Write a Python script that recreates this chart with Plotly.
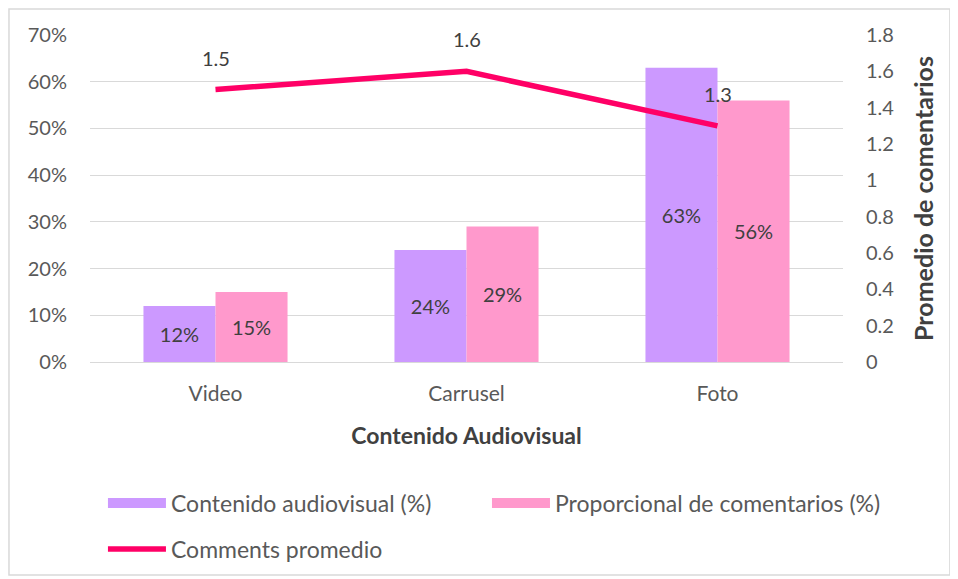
import plotly.graph_objects as go

categories = ["Video", "Carrusel", "Foto"]
contenido = [0.12, 0.24, 0.63]
proporcional = [0.15, 0.29, 0.56]
comments = [1.5, 1.6, 1.3]

FONT = "Lato"
GREY = "#595959"
DARK = "#404040"
PURPLE = "#CC99FF"
PINK = "#FF99CC"
RED = "#FF0066"

fig = go.Figure()
fig.add_trace(go.Bar(
    x=categories, y=contenido, name="Contenido audiovisual (%)", showlegend=False,
    marker=dict(color=PURPLE, line=dict(width=0)),
    text=[f"{v*100:.0f}%" for v in contenido], textposition="inside",
    insidetextanchor="middle", textfont=dict(family=FONT, size=20, color=DARK),
    textangle=0, cliponaxis=False,
))
fig.add_trace(go.Bar(
    x=categories, y=proporcional, name="Proporcional de comentarios (%)", showlegend=False,
    marker=dict(color=PINK, line=dict(width=0)),
    text=[f"{v*100:.0f}%" for v in proporcional], textposition="inside",
    insidetextanchor="middle", textfont=dict(family=FONT, size=20, color=DARK),
    textangle=0, cliponaxis=False,
))
fig.add_trace(go.Scatter(
    x=categories, y=comments, name="Comments promedio", yaxis="y2",
    mode="lines", line=dict(color=RED, width=5.5), legend="legend3",
))
# legend swatches for the bar series
fig.add_trace(go.Scatter(x=[None], y=[None], mode="lines", name="Contenido audiovisual (%)",
                         line=dict(color=PURPLE, width=12), legend="legend"))
fig.add_trace(go.Scatter(x=[None], y=[None], mode="lines", name="Proporcional de comentarios (%)",
                         line=dict(color=PINK, width=12), legend="legend2"))

for c, v in zip(categories, comments):
    fig.add_annotation(x=c, y=v, yref="y2", text=f"{v}", showarrow=False,
                       yshift=32, font=dict(family=FONT, size=20, color=DARK))

fig.add_shape(type="rect", xref="paper", yref="paper",
              x0=-0.1076, x1=1.142, y0=-0.651, y1=1.0795,
              line=dict(color="#D9D9D9", width=1.5), layer="below")

legfont = dict(family=FONT, size=23, color=GREY)
common = dict(xanchor="left", yanchor="middle", itemwidth=58, font=legfont,
              bgcolor="rgba(0,0,0,0)")

fig.update_layout(
    width=958, height=579,
    margin=dict(l=82, r=123, t=27, b=225, autoexpand=False),
    paper_bgcolor="white", plot_bgcolor="white",
    barmode="group", bargap=0.426, bargroupgap=0,
    font=dict(family=FONT, size=20, color=GREY),
    showlegend=True,
    legend=dict(x=0.0172, y=-0.4312, **common),
    legend2=dict(x=0.5272, y=-0.4312, **common),
    legend3=dict(x=0.0172, y=-0.5719, **common),
    xaxis=dict(showgrid=False, showline=False, ticks="", ticklabelstandoff=17,
               automargin=False,
               tickfont=dict(family=FONT, size=21, color=GREY),
               title=dict(text="<b>Contenido Audiovisual</b>", standoff=23,
                          font=dict(family=FONT, size=23, color=DARK))),
    yaxis=dict(range=[0, 0.7], dtick=0.1, tickformat=".0%", showgrid=True,
               gridcolor="#D9D9D9", gridwidth=1, zeroline=True, zerolinecolor="#D9D9D9",
               zerolinewidth=1, showline=False, ticks="", ticklabelstandoff=22,
               automargin=False,
               tickfont=dict(family=FONT, size=20, color=GREY)),
    yaxis2=dict(range=[0, 1.8], dtick=0.2, overlaying="y", side="right",
                showgrid=False, zeroline=False, showline=False, ticks="",
                ticklabelstandoff=22, automargin=False,
                tickfont=dict(family=FONT, size=20, color=GREY),
                title=dict(text="<b>Promedio de comentarios</b>", standoff=22,
                           font=dict(family=FONT, size=25, color=DARK))),
)

fig.write_html("out.html")
